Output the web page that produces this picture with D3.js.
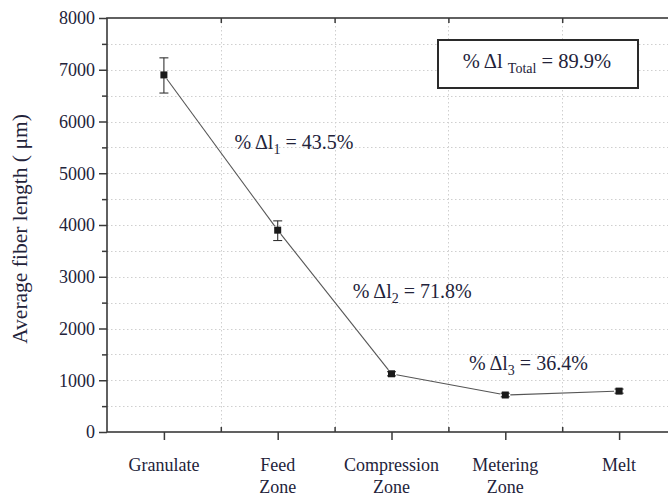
<!DOCTYPE html>
<html><head><meta charset="utf-8">
<script src="https://cdn.jsdelivr.net/npm/d3@7"></script>
<style>
html,body{margin:0;padding:0;background:#fff;}
svg{display:block;font-family:"Liberation Serif","Times New Roman",serif;}
</style></head>
<body>
<svg id="chart" width="668" height="497"></svg>
<script>
// ---- data ----
const categories = ["Granulate", "Feed\nZone", "Compression\nZone", "Metering\nZone", "Melt"];
const meanLength = [6900, 3900, 1125, 715, 790];
const errLow = [6550, 3700, 1085, 680, 750];
const errHigh = [7230, 4080, 1165, 750, 830];
const yTicks = [0, 1000, 2000, 3000, 4000, 5000, 6000, 7000, 8000];
const yMinorTicks = [500, 1500, 2500, 3500, 4500, 5500, 6500, 7500];
const xMinorTicks = [0.5, 1.5, 2.5, 3.5];
const annotations = [
  {x: 0.62, y: 5470, sub: "1", value: "43.5%"},
  {x: 1.66, y: 2580, sub: "2", value: "71.8%"},
  {x: 2.68, y: 1190, sub: "3", value: "36.4%"}
];
const totalLabel = {sub: "Total", value: "89.9%"};
const yTitle = "Average fiber length (  μm)";

// ---- layout ----
const svg = d3.select("#chart");
const L = 107, R = 676, T = 18, B = 432;
const x = d3.scaleLinear().domain([-0.5, 4.5]).range([L, R]);
const y = d3.scaleLinear().domain([0, 8000]).range([B, T]);
const textColor = "#23233a";
const axisColor = "#3a3a3a";

// grid
const grid = svg.append("g").attr("stroke", "#cfcfcf").attr("stroke-width", 1).attr("stroke-dasharray", "1.5,2.5");
grid.selectAll(".hg").data(yTicks.concat(yMinorTicks).filter(v => v > 0 && v < 8000)).join("line")
  .attr("x1", L).attr("x2", R).attr("y1", d => Math.round(y(d)) + 0.5).attr("y2", d => Math.round(y(d)) + 0.5);
grid.selectAll(".vg").data(xMinorTicks).join("line")
  .attr("y1", T).attr("y2", B).attr("x1", d => Math.round(x(d)) + 0.5).attr("x2", d => Math.round(x(d)) + 0.5);

// left axis
const yAxis = d3.axisLeft(y).tickValues(yTicks).tickSize(8).tickPadding(4).tickFormat(d3.format("d"));
const gy = svg.append("g").attr("transform", `translate(${L},0)`).call(yAxis);
gy.select(".domain").remove();
gy.selectAll(".tick line").attr("stroke", axisColor).attr("stroke-width", 1.5);
gy.selectAll(".tick text").attr("font-family", "Liberation Serif").attr("font-size", 18).attr("fill", textColor);
const gyMinor = d3.axisLeft(y).tickValues(yMinorTicks).tickSize(5).tickFormat("");
const gym = svg.append("g").attr("transform", `translate(${L},0)`).call(gyMinor);
gym.select(".domain").remove();
gym.selectAll(".tick line").attr("stroke", axisColor).attr("stroke-width", 1.5);

// right axis (inward ticks)
const gr = svg.append("g").attr("transform", `translate(${R},0)`)
  .call(d3.axisLeft(y).tickValues(yTicks.concat(yMinorTicks)).tickSizeInner(0).tickSizeOuter(0).tickFormat(""));
gr.select(".domain").remove();
gr.selectAll(".tick").append("line").attr("x1", 0).attr("x2", d => yTicks.includes(d) ? -8 : -5)
  .attr("stroke", axisColor).attr("stroke-width", 1.5);

// bottom axis: major outward, minor inward
const xAxis = d3.axisBottom(x).tickValues(d3.range(categories.length)).tickSize(8).tickFormat("");
const gx = svg.append("g").attr("transform", `translate(0,${B})`).call(xAxis);
gx.select(".domain").remove();
gx.selectAll(".tick line").attr("stroke", axisColor).attr("stroke-width", 1.5);
const gxm = svg.append("g").attr("transform", `translate(0,${B})`)
  .call(d3.axisTop(x).tickValues(xMinorTicks).tickSize(5).tickFormat(""));
gxm.select(".domain").remove();
gxm.selectAll(".tick line").attr("stroke", axisColor).attr("stroke-width", 1.5);

// top axis minor inward
const gt = svg.append("g").attr("transform", `translate(0,${T})`)
  .call(d3.axisBottom(x).tickValues(xMinorTicks).tickSize(5).tickFormat(""));
gt.select(".domain").remove();
gt.selectAll(".tick line").attr("stroke", axisColor).attr("stroke-width", 1.5);

// category labels
const lab = svg.append("g").attr("font-size", 18).attr("fill", textColor).attr("text-anchor", "middle");
categories.forEach((c, i) => {
  const t = lab.append("text").attr("x", x(i)).attr("y", 471);
  c.split("\n").forEach((s, j) => t.append("tspan").attr("x", x(i)).attr("dy", j ? 22 : 0).text(s));
});

// frame
svg.append("rect").attr("x", L).attr("y", T).attr("width", R - L).attr("height", B - T)
  .attr("fill", "none").attr("stroke", axisColor).attr("stroke-width", 1.6);

// y title
svg.append("text").attr("transform", `translate(27,229) rotate(-90)`)
  .attr("text-anchor", "middle").attr("font-size", 21.5).attr("fill", textColor).text(yTitle);

// connecting line segments with small gap
const pts = meanLength.map((v, i) => [x(i), y(v)]);
const gap = 5;
const lineG = svg.append("g").attr("stroke", "#555").attr("stroke-width", 1.1);
for (let i = 0; i < pts.length - 1; i++) {
  const [x1, y1] = pts[i], [x2, y2] = pts[i + 1];
  const len = Math.hypot(x2 - x1, y2 - y1), ux = (x2 - x1) / len, uy = (y2 - y1) / len;
  lineG.append("line").attr("x1", x1 + ux * gap).attr("y1", y1 + uy * gap)
    .attr("x2", x2 - ux * gap).attr("y2", y2 - uy * gap);
}

// error bars
const eg = svg.append("g").attr("stroke", "#333").attr("stroke-width", 1.1);
meanLength.forEach((v, i) => {
  const cx = x(i);
  eg.append("line").attr("x1", cx).attr("x2", cx).attr("y1", y(errLow[i])).attr("y2", y(errHigh[i]));
  eg.append("line").attr("x1", cx - 4.5).attr("x2", cx + 4.5).attr("y1", y(errLow[i])).attr("y2", y(errLow[i]));
  eg.append("line").attr("x1", cx - 4.5).attr("x2", cx + 4.5).attr("y1", y(errHigh[i])).attr("y2", y(errHigh[i]));
});

// markers
svg.append("g").selectAll("rect").data(meanLength).join("rect")
  .attr("x", (d, i) => x(i) - 3.5).attr("y", d => y(d) - 3.5).attr("width", 7).attr("height", 7)
  .attr("fill", "#1a1a1a");

// annotations
function deltaText(g, xp, yp, sub, value, subSize) {
  const t = g.append("text").attr("x", xp).attr("y", yp).attr("font-size", 20).attr("fill", textColor);
  t.append("tspan").text("% Δl");
  t.append("tspan").attr("font-size", subSize).attr("dy", 5).text(sub);
  t.append("tspan").attr("dy", -5).text(" = " + value);
  return t;
}
const ag = svg.append("g");
annotations.forEach(a => deltaText(ag, x(a.x), y(a.y), a.sub, a.value, 14));

// total box
svg.append("rect").attr("x", 438).attr("y", 40).attr("width", 200).attr("height", 48)
  .attr("fill", "#fff").attr("stroke", "#2a2a2a").attr("stroke-width", 2);
const tt = svg.append("text").attr("x", 537).attr("y", 68).attr("text-anchor", "middle")
  .attr("font-size", 20.5).attr("fill", textColor);
tt.append("tspan").text("% Δl ");
tt.append("tspan").attr("font-size", 14).attr("dy", 5).text(totalLabel.sub);
tt.append("tspan").attr("dy", -5).text(" = " + totalLabel.value);
</script>
</body></html>
